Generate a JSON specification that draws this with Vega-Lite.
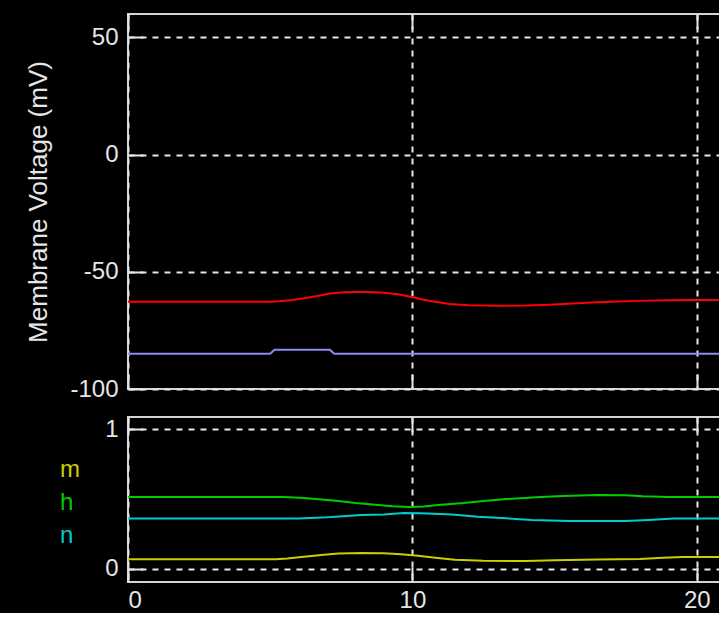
{
  "$schema": "https://vega.github.io/schema/vega-lite/v6.json",
  "background": "black",
  "padding": {"left": 24, "top": 12, "right": 0, "bottom": 0},
  "spacing": 13,
  "resolve": {"scale": {"color": "independent"}, "legend": {"color": "independent"}},
  "datasets": {
    "voltage": [
      {"t": 0, "v": -62.8}, {"t": 5.0, "v": -62.8}, {"t": 5.3, "v": -62.6}, {"t": 5.8, "v": -62.0},
      {"t": 6.3, "v": -61.1}, {"t": 6.7, "v": -60.2}, {"t": 7.1, "v": -59.3}, {"t": 7.6, "v": -58.7},
      {"t": 8.0, "v": -58.6}, {"t": 8.5, "v": -58.6}, {"t": 9.0, "v": -58.9}, {"t": 9.5, "v": -59.6},
      {"t": 9.8, "v": -60.3}, {"t": 10.1, "v": -61.1}, {"t": 10.4, "v": -61.9}, {"t": 10.8, "v": -62.8},
      {"t": 11.3, "v": -63.7}, {"t": 12.0, "v": -64.3}, {"t": 13.0, "v": -64.5}, {"t": 14.0, "v": -64.4},
      {"t": 14.8, "v": -64.1}, {"t": 15.5, "v": -63.6}, {"t": 16.3, "v": -63.1}, {"t": 17.0, "v": -62.8},
      {"t": 17.9, "v": -62.4}, {"t": 19.0, "v": -62.1}, {"t": 20.0, "v": -62.0}, {"t": 21.8, "v": -62.0}
    ],
    "stimulus": [
      {"t": 0, "v": -85}, {"t": 5.0, "v": -85}, {"t": 5.15, "v": -83.3}, {"t": 7.1, "v": -83.3},
      {"t": 7.25, "v": -85}, {"t": 21.8, "v": -85}
    ],
    "gates": [
      {"t": 0, "gate": "m", "value": 0.069}, {"t": 5.2, "gate": "m", "value": 0.069}, {"t": 5.6, "gate": "m", "value": 0.075},
      {"t": 6.1, "gate": "m", "value": 0.086}, {"t": 6.8, "gate": "m", "value": 0.1}, {"t": 7.4, "gate": "m", "value": 0.11},
      {"t": 8.2, "gate": "m", "value": 0.114}, {"t": 9.0, "gate": "m", "value": 0.113}, {"t": 9.6, "gate": "m", "value": 0.105},
      {"t": 10.2, "gate": "m", "value": 0.094}, {"t": 10.8, "gate": "m", "value": 0.08}, {"t": 11.5, "gate": "m", "value": 0.066},
      {"t": 12.5, "gate": "m", "value": 0.058}, {"t": 14.0, "gate": "m", "value": 0.057}, {"t": 15.0, "gate": "m", "value": 0.062},
      {"t": 16.5, "gate": "m", "value": 0.068}, {"t": 18.0, "gate": "m", "value": 0.072}, {"t": 18.8, "gate": "m", "value": 0.08},
      {"t": 19.5, "gate": "m", "value": 0.086}, {"t": 21.8, "gate": "m", "value": 0.086},
      {"t": 0, "gate": "h", "value": 0.514}, {"t": 5.5, "gate": "h", "value": 0.514}, {"t": 6.2, "gate": "h", "value": 0.507},
      {"t": 6.6, "gate": "h", "value": 0.5}, {"t": 7.4, "gate": "h", "value": 0.486}, {"t": 8.0, "gate": "h", "value": 0.471},
      {"t": 8.8, "gate": "h", "value": 0.457}, {"t": 9.3, "gate": "h", "value": 0.448}, {"t": 9.9, "gate": "h", "value": 0.443},
      {"t": 10.4, "gate": "h", "value": 0.447}, {"t": 10.9, "gate": "h", "value": 0.457}, {"t": 11.8, "gate": "h", "value": 0.471},
      {"t": 12.5, "gate": "h", "value": 0.486}, {"t": 13.3, "gate": "h", "value": 0.5}, {"t": 14.5, "gate": "h", "value": 0.514},
      {"t": 15.3, "gate": "h", "value": 0.522}, {"t": 16.5, "gate": "h", "value": 0.529}, {"t": 17.5, "gate": "h", "value": 0.527},
      {"t": 18.1, "gate": "h", "value": 0.52}, {"t": 19.0, "gate": "h", "value": 0.514}, {"t": 21.8, "gate": "h", "value": 0.514},
      {"t": 0, "gate": "n", "value": 0.36}, {"t": 6.0, "gate": "n", "value": 0.36}, {"t": 6.8, "gate": "n", "value": 0.367},
      {"t": 7.3, "gate": "n", "value": 0.374}, {"t": 8.2, "gate": "n", "value": 0.385}, {"t": 9.0, "gate": "n", "value": 0.389},
      {"t": 9.7, "gate": "n", "value": 0.4}, {"t": 10.3, "gate": "n", "value": 0.398}, {"t": 11.4, "gate": "n", "value": 0.389},
      {"t": 12.3, "gate": "n", "value": 0.374}, {"t": 13.3, "gate": "n", "value": 0.362}, {"t": 14.2, "gate": "n", "value": 0.35},
      {"t": 15.5, "gate": "n", "value": 0.343}, {"t": 17.5, "gate": "n", "value": 0.343}, {"t": 18.3, "gate": "n", "value": 0.35},
      {"t": 19.2, "gate": "n", "value": 0.36}, {"t": 21.8, "gate": "n", "value": 0.36}
    ]
  },
  "config": {
    "view": {"stroke": "#d4d4d4", "strokeWidth": 2},
    "axis": {
      "domain": false,
      "grid": true,
      "gridColor": "#e6e6e6",
      "gridDash": [6, 6],
      "gridWidth": 2,
      "ticks": true,
      "tickColor": "#e6e6e6",
      "tickSize": -15,
      "tickWidth": 2,
      "labelColor": "#e6e6e6",
      "labelFont": "Liberation Sans",
      "labelFontSize": 24,
      "labelPadding": 25,
      "labelExpr": "'' + datum.value",
      "titleColor": "#e6e6e6",
      "titleFont": "Liberation Sans",
      "titleFontSize": 26,
      "titleFontWeight": "normal"
    }
  },
  "vconcat": [
    {
      "width": 620,
      "height": 375,
      "resolve": {"axis": {"x": "independent"}},
      "layer": [
        {
          "data": {"name": "voltage"},
          "mark": {"type": "line", "color": "#ff0000", "strokeWidth": 2},
          "encoding": {
            "x": {"field": "t", "type": "quantitative", "scale": {"domain": [0, 21.8], "nice": false},
                  "axis": {"values": [0, 10, 20], "labels": false, "title": null}},
            "y": {"field": "v", "type": "quantitative", "scale": {"domain": [-100, 60], "nice": false},
                  "axis": {"values": [-100, -50, 0, 50], "title": "Membrane Voltage (mV)", "titlePadding": 18}}
          }
        },
        {
          "data": {"name": "stimulus"},
          "mark": {"type": "line", "color": "#8c8cf0", "strokeWidth": 2},
          "encoding": {
            "x": {"field": "t", "type": "quantitative",
                  "axis": {"orient": "top", "values": [0, 10, 20], "labels": false, "grid": false, "title": null}},
            "y": {"field": "v", "type": "quantitative"}
          }
        }
      ]
    },
    {
      "width": 620,
      "height": 165,
      "resolve": {"axis": {"x": "independent"}},
      "data": {"name": "gates"},
      "encoding": {
        "x": {"field": "t", "type": "quantitative", "scale": {"domain": [0, 21.8], "nice": false}},
        "y": {"field": "value", "type": "quantitative", "scale": {"domain": [-0.093, 1.086], "nice": false},
              "axis": {"values": [0, 1], "title": null}},
        "color": {
          "field": "gate", "type": "nominal",
          "scale": {"domain": ["m", "h", "n"], "range": ["#cccc00", "#00cc00", "#00cccc"]},
          "legend": {
            "orient": "none", "legendX": -92, "legendY": 41, "title": null,
            "symbolOpacity": 0, "symbolSize": 1, "symbolStrokeWidth": 0, "labelOffset": 0,
            "padding": 0, "rowPadding": 9,
            "labelFont": "Liberation Sans", "labelFontSize": 24,
            "labelColor": {"expr": "datum.value == 'm' ? '#cccc00' : datum.value == 'h' ? '#00cc00' : '#00cccc'"}
          }
        },
        "detail": {"field": "gate", "type": "nominal"}
      },
      "layer": [
        {
          "transform": [{"filter": "datum.gate != 'n'"}],
          "mark": {"type": "line", "strokeWidth": 2},
          "encoding": {
            "x": {"field": "t", "type": "quantitative",
                  "axis": {"values": [0, 10, 20], "title": null, "labelPadding": 21}}
          }
        },
        {
          "transform": [{"filter": "datum.gate == 'n'"}],
          "mark": {"type": "line", "strokeWidth": 2},
          "encoding": {
            "x": {"field": "t", "type": "quantitative",
                  "axis": {"orient": "top", "values": [0, 10, 20], "labels": false, "grid": false, "title": null}}
          }
        }
      ]
    }
  ]
}
